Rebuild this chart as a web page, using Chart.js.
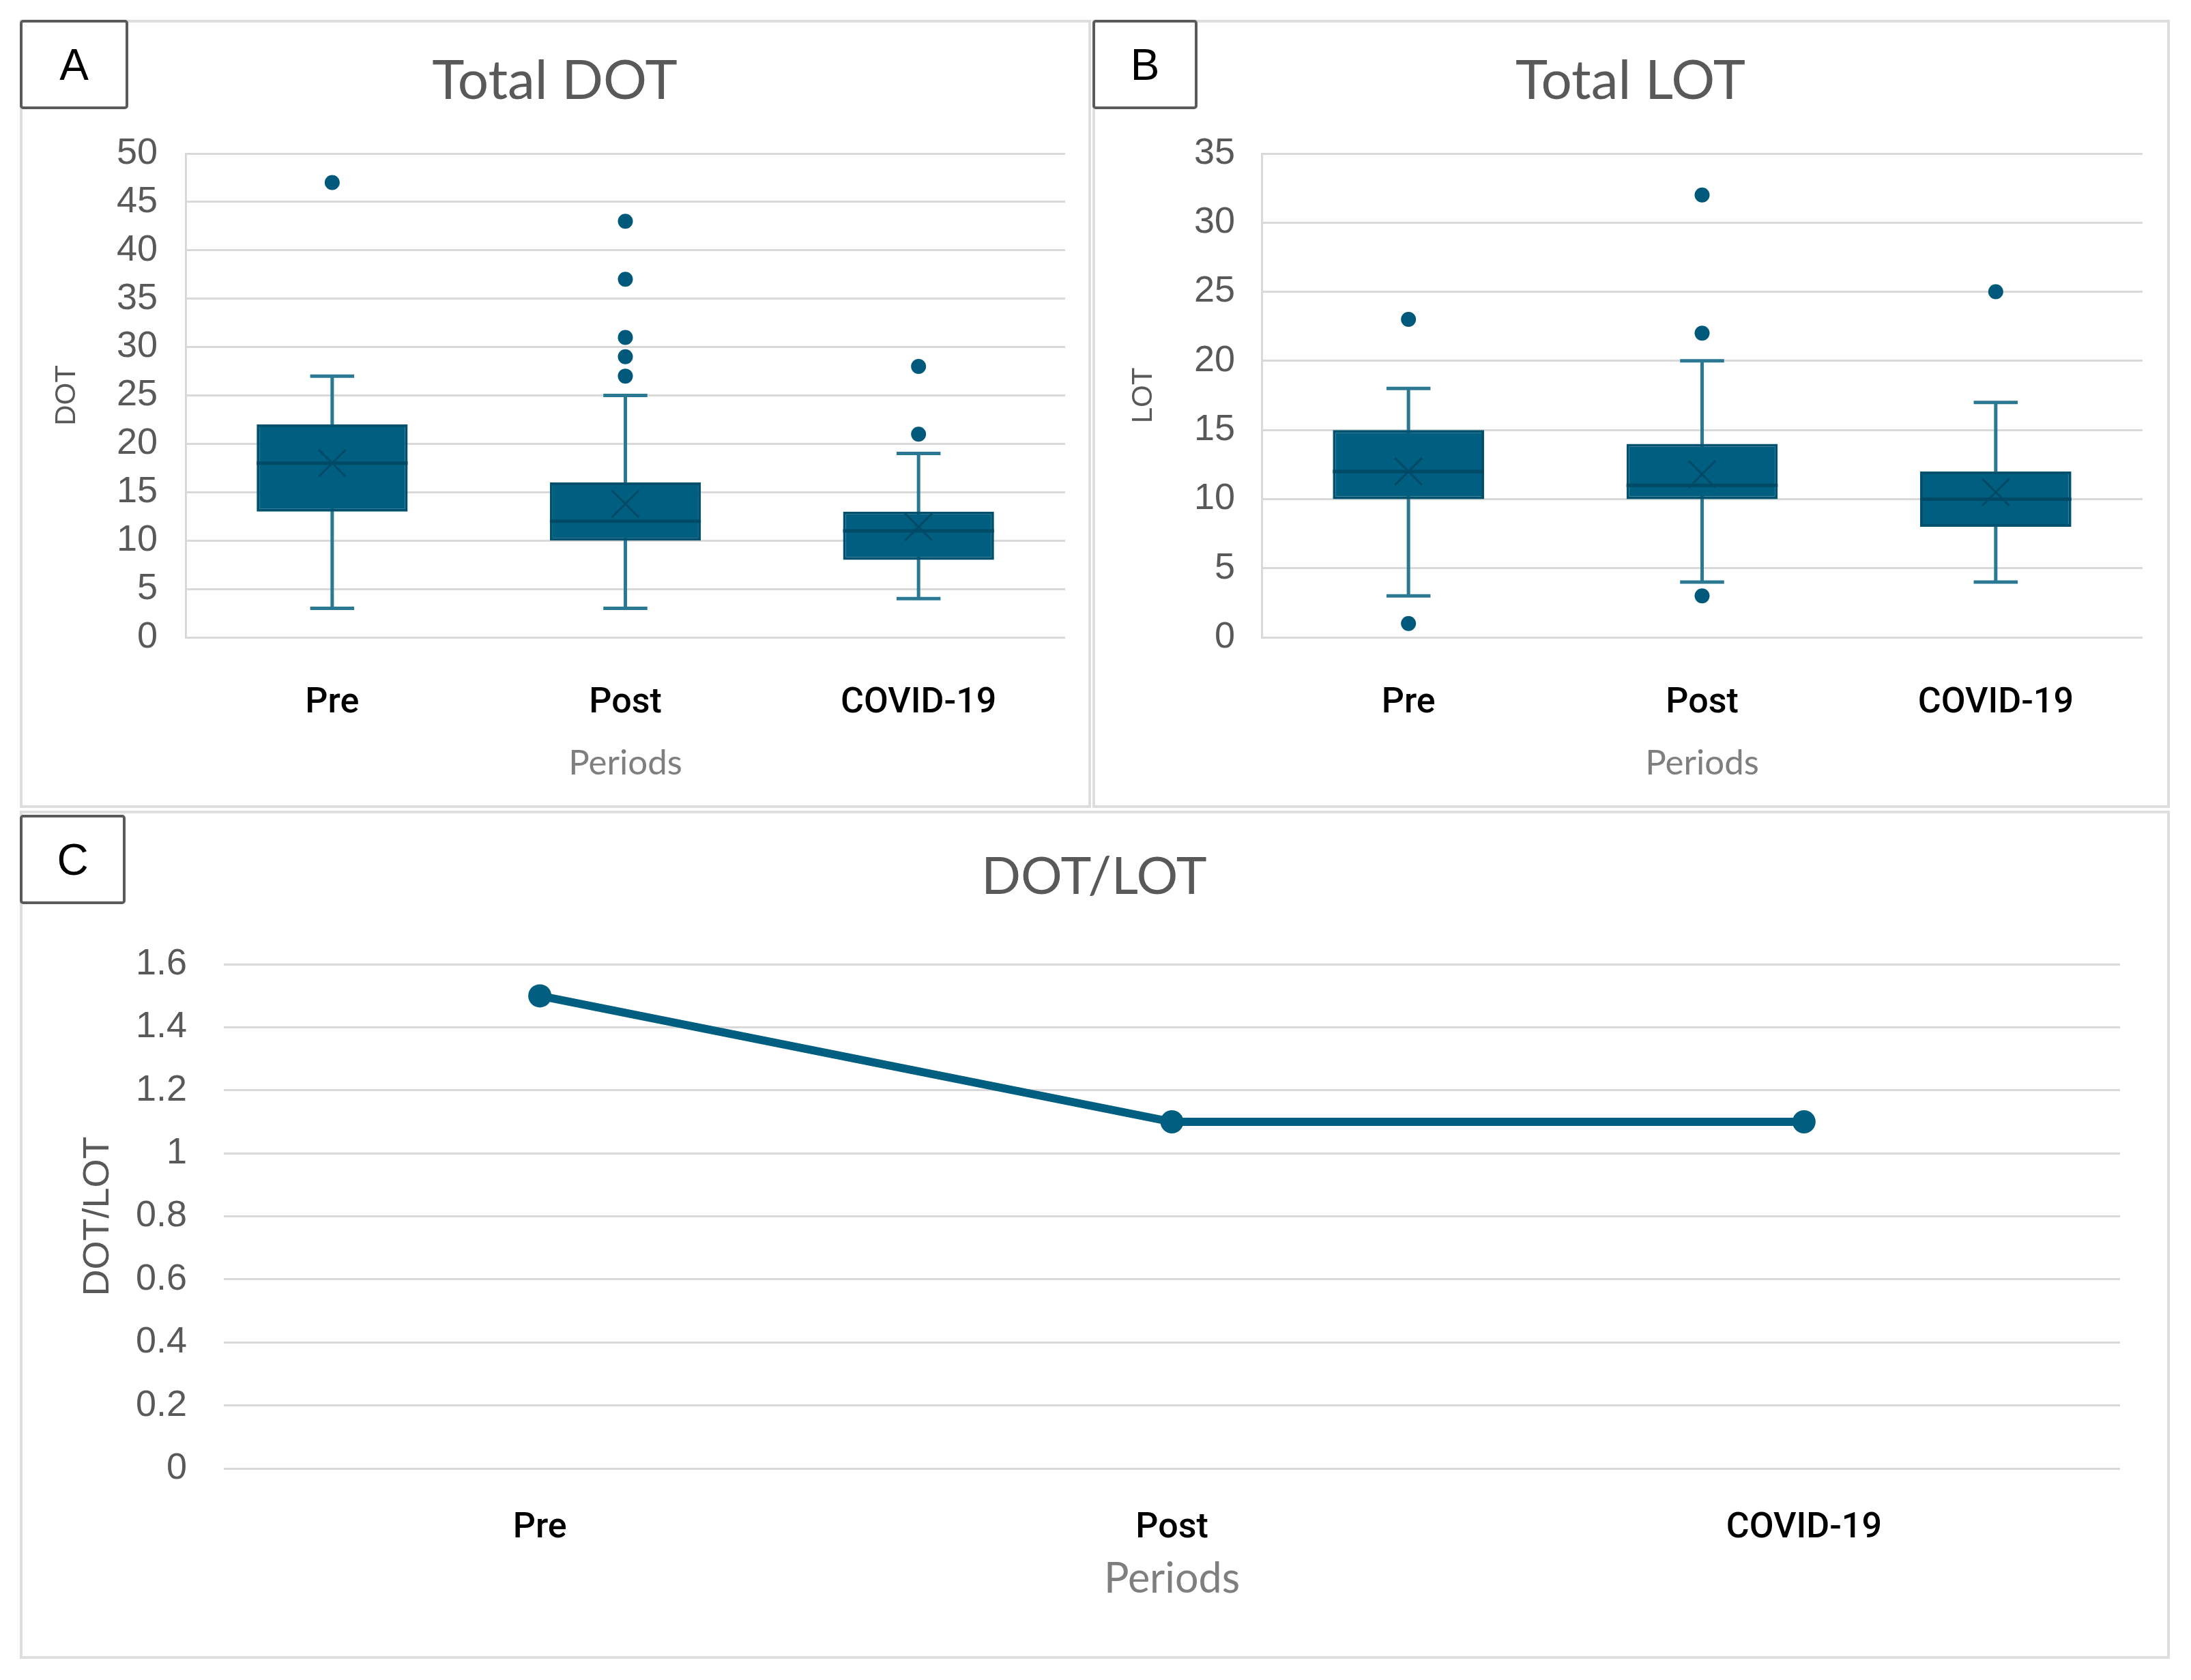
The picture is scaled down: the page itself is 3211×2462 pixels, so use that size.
<!DOCTYPE html>
<html>
<head>
<meta charset="utf-8">
<script src="https://cdn.jsdelivr.net/npm/chart.js@4.4.1/dist/chart.umd.min.js"></script>
<style>
  html, body { margin: 0; padding: 0; background: #fff; }
  body { width: 3211px; height: 2462px; position: relative; overflow: hidden; }
  .panel { position: absolute; box-sizing: border-box; border: 4px solid #dedede; }
  .wrap { position: absolute; }
  .tag {
    position: absolute; box-sizing: border-box; border: 4px solid #5a5a5a; border-radius: 5px;
    background: #fff; display: flex; align-items: center; justify-content: center;
    font-family: "Liberation Sans", Arial, sans-serif; font-size: 64px; color: #000;
  }
</style>
</head>
<body>
<div class="panel" style="left:29px;top:29px;width:1570px;height:1155px"></div>
<div class="panel" style="left:1601px;top:29px;width:1579px;height:1155px"></div>
<div class="panel" style="left:29px;top:1188px;width:3151px;height:1243px"></div>

<div class="wrap" style="left:29px;top:29px;width:1568px;height:1153px"><canvas id="dotChart"></canvas></div>
<div class="wrap" style="left:1601px;top:29px;width:1577px;height:1153px"><canvas id="lotChart"></canvas></div>
<div class="wrap" style="left:29px;top:1188px;width:3149px;height:1241px"><canvas id="ratioChart"></canvas></div>

<div class="tag" style="left:29px;top:29px;width:159px;height:131px">A</div>
<div class="tag" style="left:1601px;top:29px;width:154px;height:131px">B</div>
<div class="tag" style="left:29px;top:1194px;width:155px;height:131px">C</div>

<script>
// categories
const periods = ['Pre', 'Post', 'COVID-19'];

// Total DOT box plot
const dotMin = [3, 3, 4];
const dotQ1 = [13, 10, 8];
const dotMedian = [18, 12, 11];
const dotQ3 = [22, 16, 13];
const dotMax = [27, 25, 19];
const dotMean = [18, 13.8, 11.4];
const dotOutliers = [[47], [27, 29, 31, 37, 43], [21, 28]];
const dotTicks = [0, 5, 10, 15, 20, 25, 30, 35, 40, 45, 50];

// Total LOT box plot
const lotMin = [3, 4, 4];
const lotQ1 = [10, 10, 8];
const lotMedian = [12, 11, 10];
const lotQ3 = [15, 14, 12];
const lotMax = [18, 20, 17];
const lotMean = [12, 11.8, 10.5];
const lotOutliers = [[1, 23], [3, 22, 32], [25]];
const lotTicks = [0, 5, 10, 15, 20, 25, 30, 35];

// DOT/LOT ratio
const ratioValues = [1.5, 1.1, 1.1];
const ratioTicks = [0, 0.2, 0.4, 0.6, 0.8, 1, 1.2, 1.4, 1.6];

const TEAL = '#005f80';
const GRID = '#d9d9d9';
const GREY = '#595959';
const TICK_FONT = { family: '"Liberation Sans", Arial, sans-serif', size: 54 };
const CAT_FONT = { family: 'Roboto, "Liberation Sans", sans-serif', size: 52, weight: 500 };

Chart.defaults.animation = false;
Chart.defaults.devicePixelRatio = 1;

// whiskers behind the boxes, medians on top of them
const boxWhiskers = {
  id: 'boxWhiskers',
  beforeDatasetsDraw(chart, args, opts) {
    const { ctx, scales: { x, y } } = chart;
    const capHalf = x.width / periods.length * 0.075;
    ctx.save();
    ctx.strokeStyle = '#2b7892';
    ctx.lineWidth = 5;
    opts.min.forEach((lo, i) => {
      const cx = x.getPixelForValue(i);
      const yLo = y.getPixelForValue(lo);
      const yHi = y.getPixelForValue(opts.max[i]);
      ctx.beginPath();
      ctx.moveTo(cx, yLo); ctx.lineTo(cx, yHi);
      ctx.moveTo(cx - capHalf, yLo); ctx.lineTo(cx + capHalf, yLo);
      ctx.moveTo(cx - capHalf, yHi); ctx.lineTo(cx + capHalf, yHi);
      ctx.stroke();
    });
    ctx.restore();
  },
  afterDatasetDraw(chart, args, opts) {
    if (args.index !== 0) return;
    const { ctx, scales: { y } } = chart;
    const bars = chart.getDatasetMeta(0).data;
    ctx.save();
    ctx.strokeStyle = '#004a66';
    ctx.lineWidth = 5;
    opts.median.forEach((m, i) => {
      const b = bars[i];
      const ym = y.getPixelForValue(m);
      ctx.beginPath();
      ctx.moveTo(b.x - b.width / 2, ym);
      ctx.lineTo(b.x + b.width / 2, ym);
      ctx.stroke();
    });
    ctx.restore();
  }
};

function boxChart(id, s) {
  const outlierPts = [];
  s.outliers.forEach((list, i) => list.forEach(v => outlierPts.push({ x: periods[i], y: v })));
  return new Chart(document.getElementById(id), {
    type: 'bar',
    data: {
      labels: periods,
      datasets: [
        {
          data: s.q1.map((q, i) => [q, s.q3[i]]),
          backgroundColor: TEAL,
          borderColor: '#00516e',
          borderWidth: 4,
          borderSkipped: false,
          barPercentage: 0.515,
          categoryPercentage: 1,
          order: 3
        },
        {
          type: 'scatter',
          data: outlierPts,
          pointRadius: 11,
          backgroundColor: '#00587a',
          borderWidth: 0,
          order: 2
        },
        {
          type: 'scatter',
          data: s.mean.map((v, i) => ({ x: periods[i], y: v })),
          pointStyle: 'crossRot',
          pointRadius: 28,
          borderColor: '#004a66',
          borderWidth: 3,
          order: 1
        }
      ]
    },
    options: {
      responsive: true,
      maintainAspectRatio: false,
      layout: { padding: { left: s.pad, right: s.pad, top: 0, bottom: 0 } },
      plugins: {
        legend: { display: false },
        tooltip: { enabled: false },
        title: {
          display: true,
          text: s.title,
          color: GREY,
          font: { family: 'Lato, sans-serif', size: 80, weight: 'normal', lineHeight: 1.2 },
          padding: { top: 42, bottom: 58 }
        },
        boxWhiskers: { min: s.min, max: s.max, median: s.median }
      },
      scales: {
        x: {
          offset: true,
          grid: { display: false },
          border: { display: false },
          ticks: { color: '#000', font: CAT_FONT, padding: 58 },
          title: {
            display: true, text: 'Periods', color: '#7f7f7f',
            font: { family: 'Lato, sans-serif', size: 51, lineHeight: 1.2 },
            padding: { top: 0, bottom: 33 }
          },
          afterFit: sc => { sc.height = 248; }
        },
        y: {
          min: 0,
          max: s.ticks[s.ticks.length - 1],
          afterBuildTicks: sc => { sc.ticks = s.ticks.map(v => ({ value: v })); },
          grid: { color: GRID, lineWidth: 3, drawTicks: false },
          border: { display: true, color: GRID, width: 3 },
          ticks: { color: GREY, font: TICK_FONT, padding: s.tickPad },
          title: {
            display: true, text: s.yTitle, color: GREY,
            font: { family: '"Liberation Sans", Arial, sans-serif', size: 42, lineHeight: 1.2 },
            padding: { top: s.yTitlePad, bottom: 0 }
          },
          afterFit: sc => { sc.width = s.yWidth; }
        }
      }
    },
    plugins: [boxWhiskers]
  });
}

boxChart('dotChart', {
  title: 'Total DOT', yTitle: 'DOT', ticks: dotTicks,
  min: dotMin, q1: dotQ1, median: dotMedian, q3: dotQ3, max: dotMax, mean: dotMean, outliers: dotOutliers,
  pad: 36, yWidth: 207, tickPad: 41, yTitlePad: 8
});

boxChart('lotChart', {
  title: 'Total LOT', yTitle: 'LOT', ticks: lotTicks,
  min: lotMin, q1: lotQ1, median: lotMedian, q3: lotQ3, max: lotMax, mean: lotMean, outliers: lotOutliers,
  pad: 38, yWidth: 210, tickPad: 39, yTitlePad: 12
});

new Chart(document.getElementById('ratioChart'), {
  type: 'line',
  data: {
    labels: periods,
    datasets: [{
      data: ratioValues,
      borderColor: TEAL,
      backgroundColor: TEAL,
      borderWidth: 12,
      pointRadius: 17,
      pointBackgroundColor: TEAL,
      pointBorderWidth: 0,
      tension: 0
    }]
  },
  options: {
    responsive: true,
    maintainAspectRatio: false,
    layout: { padding: { left: 71, right: 71, top: 0, bottom: 0 } },
    plugins: {
      legend: { display: false },
      tooltip: { enabled: false },
      title: {
        display: true,
        text: 'DOT/LOT',
        color: GREY,
        font: { family: 'Lato, sans-serif', size: 76, weight: 'normal', lineHeight: 1.2 },
        padding: { top: 52, bottom: 82 }
      }
    },
    scales: {
      x: {
        offset: true,
        grid: { display: false },
        border: { display: false },
        ticks: { color: '#000', font: CAT_FONT, padding: 49 },
        title: {
          display: true, text: 'Periods', color: '#7f7f7f',
          font: { family: 'Lato, sans-serif', size: 61, lineHeight: 1.2 },
          padding: { top: 0, bottom: 78 }
        },
        afterFit: sc => { sc.height = 277; }
      },
      y: {
        min: 0,
        max: 1.6,
        afterBuildTicks: sc => { sc.ticks = ratioTicks.map(v => ({ value: v })); },
        grid: { color: GRID, lineWidth: 3, drawTicks: false },
        border: { display: false },
        ticks: { color: GREY, font: TICK_FONT, padding: 54, callback: v => String(v) },
        title: {
          display: true, text: 'DOT/LOT', color: GREY,
          font: { family: '"Liberation Sans", Arial, sans-serif', size: 54, lineHeight: 1.2 },
          padding: { top: 12, bottom: 0 }
        },
        afterFit: sc => { sc.width = 228; }
      }
    }
  }
});
</script>
</body>
</html>
